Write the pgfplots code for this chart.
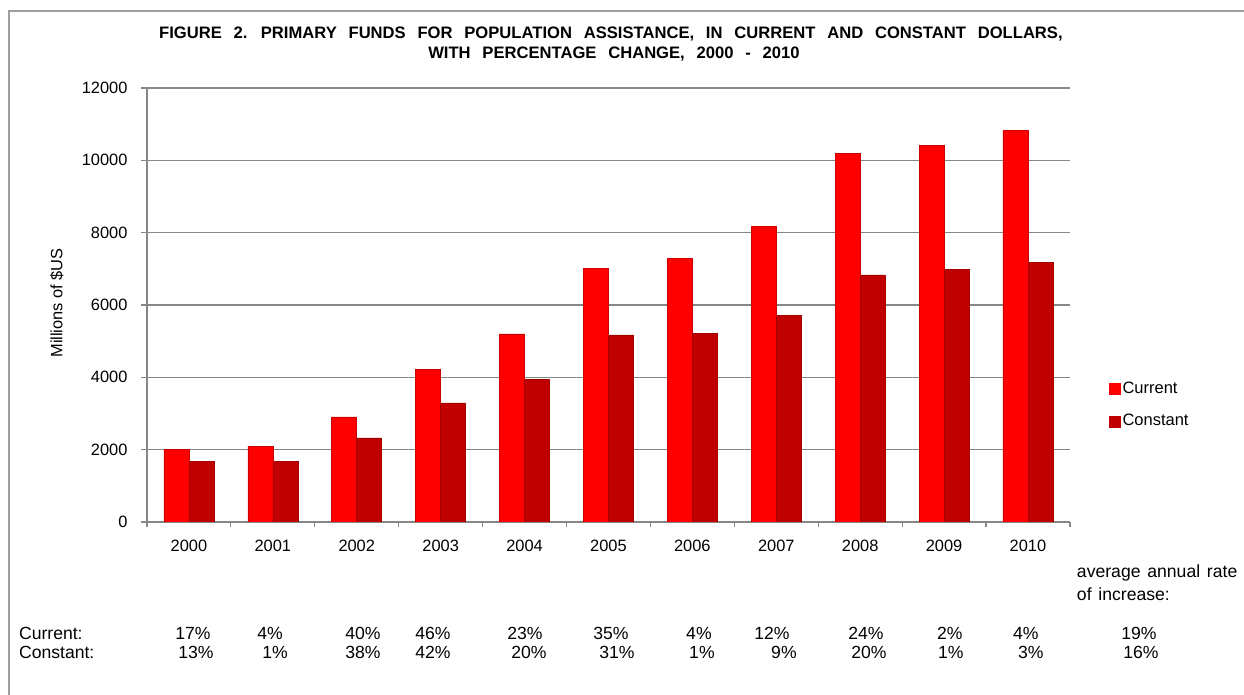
\documentclass[border=0pt]{standalone}
\usepackage{pgfplots}
\usepackage{pgfplotstable}
\pgfplotsset{compat=1.18}
\usepackage{fontspec}
\setmainfont{Liberation Sans}

\definecolor{cur}{RGB}{255,0,0}
\definecolor{con}{RGB}{192,0,0}
\definecolor{gridgray}{RGB}{134,134,134}

% millions of $US, years 2000-2010 at x = 0..10
\pgfplotstableread{
x  current  constant
0  2005     1665
1  2090     1670
2  2904     2323
3  4213     3292
4  5200     3936
5  7010     5170
6  7288     5214
7  8173     5704
8  10183    6829
9  10412    6975
10 10838    7169
}\funds

\newcommand\tickfont{\fontsize{8.2pt}{9.8pt}\selectfont}
\newcommand\tabfont{\fontsize{8.8pt}{10pt}\selectfont\spaceskip=3.4pt}
\newcommand\titlefont{\bfseries\fontsize{8.3pt}{9.8pt}\selectfont\spaceskip=5.9pt}

\begin{document}
\begin{tikzpicture}
% pixel grid of the reference: 1 px = 0.5pt, y downwards
\begin{scope}[x=0.5pt,y=-0.5pt]
\path[use as bounding box] (0,0) rectangle (1244,695);
\draw[gridgray!80, line width=1pt] (9,695) -- (9,11) -- (1244,11);
\end{scope}

\begin{axis}[
  at={(73.5pt,-261pt)}, anchor=south west,
  scale only axis, width=461.5pt, height=217pt,
  ybar=0pt, bar width=12.5pt,
  xmin=-0.5, xmax=10.5, ymin=0, ymax=12000,
  xtick={0,...,10},
  xticklabels={2000,2001,2002,2003,2004,2005,2006,2007,2008,2009,2010},
  minor xtick={-0.5,0.5,...,10.5},
  ytick={0,2000,...,12000},
  scaled y ticks=false,
  axis x line=bottom, axis y line=left,
  axis line style={draw=gridgray, line width=0.7pt, -},
  ymajorgrids, grid style={draw=gridgray, line width=0.7pt},
  tick align=outside,
  major tick length=2.75pt, minor tick length=2.5pt,
  tick style={draw=gridgray, line width=0.6pt},
  major x tick style={draw=none},
  /pgf/number format/1000 sep={},
  /pgf/number format/assume math mode=true,
  ticklabel style={font=\tickfont},
  yticklabel style={xshift=-3.5pt},
  xticklabel style={yshift=-3pt},
  legend cell align=left,
  legend style={at={(1.0423,0.269)}, anchor=west, draw=none, fill=none,
    inner sep=0pt, row sep=7.5pt, font=\fontsize{8.25pt}{9pt}\selectfont,
    nodes={inner sep=0.8pt}},
]
\addplot[fill=cur, draw=red!80!black, line width=0.3pt,
  legend image code/.code={\fill[cur] (0pt,-2.75pt) rectangle (5.5pt,2.75pt);}]
  table[x=x, y=current] {\funds};
\addplot[fill=con, draw=con!85!black, line width=0.3pt,
  legend image code/.code={\fill[con] (0pt,-2.75pt) rectangle (5.5pt,2.75pt);}]
  table[x=x, y=constant] {\funds};
\legend{Current, Constant}
\end{axis}

\begin{scope}[x=0.5pt,y=-0.5pt]
% title
\node[font=\titlefont] at (611,34)
  {FIGURE 2. PRIMARY FUNDS FOR POPULATION ASSISTANCE, IN CURRENT AND CONSTANT DOLLARS,};
\node[font=\titlefont] at (614,54)
  {WITH PERCENTAGE CHANGE, 2000 - 2010};

% y label
\node[rotate=90, font=\tickfont] at (57,303) {Millions of \$US};

% percentage change table
\node[anchor=west, font=\tabfont] at (1070,573) {average annual rate};
\node[anchor=west, font=\tabfont] at (1070,594) {of increase:};
\node[anchor=west, font=\tabfont] at (12,633) {Current:};
\node[anchor=west, font=\tabfont] at (12,652) {Constant:};
\foreach \px/\v in {193/17,270/4,363/40,433/46,525/23,611/35,699/4,772/12,866/24,950/2,1026/4,1139/19}
  \node[font=\tabfont] at (\px,633) {\v\%};
\foreach \px/\v in {196/13,275/1,363/38,433/42,529/20,617/31,702/1,784/9,869/20,951/1,1031/3,1141/16}
  \node[font=\tabfont] at (\px,652) {\v\%};
\end{scope}
\end{tikzpicture}
\end{document}
